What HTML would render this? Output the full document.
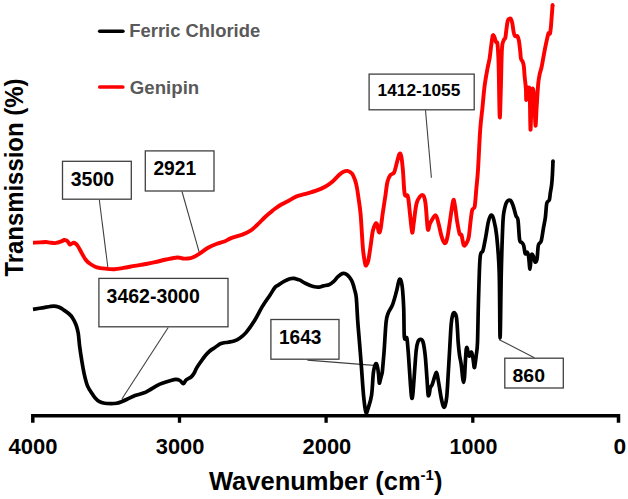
<!DOCTYPE html>
<html><head><meta charset="utf-8"><style>
html,body{margin:0;padding:0;background:#fff;}
body{width:628px;height:499px;overflow:hidden;}
svg{display:block;font-family:"Liberation Sans", sans-serif;font-weight:bold;}
</style></head><body>
<svg width="628" height="499" viewBox="0 0 628 499">
<line x1="99.3" y1="199.7" x2="107.8" y2="267" stroke="#404040" stroke-width="1.1"/>
<line x1="182" y1="191.5" x2="199.6" y2="253.7" stroke="#404040" stroke-width="1.1"/>
<line x1="168.2" y1="327.5" x2="121.9" y2="399" stroke="#404040" stroke-width="1.1"/>
<line x1="307.4" y1="360.1" x2="373.9" y2="365.4" stroke="#404040" stroke-width="1.1"/>
<line x1="499.3" y1="339.7" x2="534.4" y2="357.7" stroke="#404040" stroke-width="1.1"/>
<line x1="425.5" y1="110.3" x2="431.4" y2="177.8" stroke="#404040" stroke-width="1.1"/>
<path d="M33.0,242.7 C34.17,242.65 37.83,242.52 40.0,242.4 C42.17,242.28 44.33,241.97 46.0,242.0 C47.67,242.03 48.50,242.42 50.0,242.6 C51.50,242.78 53.67,243.12 55.0,243.1 C56.33,243.08 56.93,242.78 58.0,242.5 C59.07,242.22 60.37,241.82 61.4,241.4 C62.43,240.98 63.35,240.13 64.2,240.0 C65.05,239.87 65.85,240.27 66.5,240.6 C67.15,240.93 67.55,241.35 68.1,242.0 C68.65,242.65 69.23,244.20 69.8,244.5 C70.37,244.80 70.83,244.10 71.5,243.8 C72.17,243.50 73.13,242.75 73.8,242.7 C74.47,242.65 74.83,242.95 75.5,243.5 C76.17,244.05 77.02,244.88 77.8,246.0 C78.58,247.12 79.30,248.58 80.2,250.2 C81.10,251.82 82.23,254.05 83.2,255.7 C84.17,257.35 84.80,258.72 86.0,260.1 C87.20,261.48 88.62,262.80 90.4,264.0 C92.18,265.20 93.98,266.50 96.7,267.3 C99.42,268.10 103.73,268.48 106.7,268.8 C109.67,269.12 111.72,269.35 114.5,269.2 C117.28,269.05 120.05,268.45 123.4,267.9 C126.75,267.35 130.88,266.55 134.6,265.9 C138.32,265.25 142.30,264.62 145.7,264.0 C149.10,263.38 151.60,262.95 155.0,262.2 C158.40,261.45 162.38,260.28 166.1,259.5 C169.82,258.72 174.32,257.65 177.3,257.5 C180.28,257.35 181.77,258.50 184.0,258.6 C186.23,258.70 188.82,258.50 190.7,258.1 C192.58,257.70 193.82,256.95 195.3,256.2 C196.78,255.45 197.40,255.05 199.6,253.6 C201.80,252.15 205.53,249.17 208.5,247.5 C211.47,245.83 214.65,244.65 217.4,243.6 C220.15,242.55 222.72,242.12 225.0,241.2 C227.28,240.28 228.22,239.20 231.1,238.1 C233.98,237.00 239.13,235.80 242.3,234.6 C245.47,233.40 247.68,232.45 250.1,230.9 C252.52,229.35 254.38,227.53 256.8,225.3 C259.22,223.07 262.18,219.77 264.6,217.5 C267.02,215.23 269.63,213.12 271.3,211.7 C272.97,210.28 272.93,210.20 274.6,209.0 C276.27,207.80 278.73,206.00 281.3,204.5 C283.87,203.00 287.53,201.32 290.0,200.0 C292.47,198.68 293.22,197.70 296.1,196.6 C298.98,195.50 303.95,194.38 307.3,193.4 C310.65,192.42 313.23,191.80 316.2,190.7 C319.17,189.60 322.32,188.38 325.1,186.8 C327.88,185.22 330.48,183.25 332.9,181.2 C335.32,179.15 337.83,176.07 339.6,174.5 C341.37,172.93 342.20,172.40 343.5,171.8 C344.80,171.20 346.00,170.63 347.4,170.9 C348.80,171.17 350.63,171.88 351.9,173.4 C353.17,174.92 354.18,177.73 355.0,180.0 C355.82,182.27 356.22,184.00 356.8,187.0 C357.38,190.00 357.85,193.32 358.5,198.0 C359.15,202.68 359.97,206.75 360.7,215.1 C361.43,223.45 362.17,240.03 362.9,248.1 C363.63,256.17 364.50,260.68 365.1,263.5 C365.70,266.32 365.95,265.58 366.5,265.0 C367.05,264.42 367.72,263.17 368.4,260.0 C369.08,256.83 369.87,250.83 370.6,246.0 C371.33,241.17 371.97,234.73 372.8,231.0 C373.63,227.27 374.87,224.63 375.6,223.6 C376.33,222.57 376.65,223.37 377.2,224.8 C377.75,226.23 378.35,231.43 378.9,232.2 C379.45,232.97 379.87,232.52 380.5,229.4 C381.13,226.28 381.87,219.23 382.7,213.5 C383.53,207.77 384.72,200.25 385.5,195.0 C386.28,189.75 386.60,185.30 387.4,182.0 C388.20,178.70 389.18,176.78 390.3,175.2 C391.42,173.62 393.07,174.35 394.1,172.5 C395.13,170.65 395.62,167.18 396.5,164.1 C397.38,161.02 398.58,155.22 399.4,154.0 C400.22,152.78 400.80,153.92 401.4,156.8 C402.00,159.68 402.45,165.08 403.0,171.3 C403.55,177.52 403.88,189.90 404.7,194.1 C405.52,198.30 406.97,192.68 407.9,196.5 C408.83,200.32 409.58,210.98 410.3,217.0 C411.02,223.02 411.60,231.80 412.2,232.6 C412.80,233.40 413.13,226.80 413.9,221.8 C414.67,216.80 415.40,207.08 416.8,202.6 C418.20,198.12 420.87,194.90 422.3,194.9 C423.73,194.90 424.48,196.92 425.4,202.6 C426.32,208.28 427.00,225.60 427.8,229.0 C428.60,232.40 428.92,225.32 430.2,223.0 C431.48,220.68 434.13,215.10 435.5,215.1 C436.87,215.10 437.40,219.48 438.4,223.0 C439.40,226.52 440.47,232.82 441.5,236.2 C442.53,239.58 443.58,243.30 444.6,243.3 C445.62,243.30 446.22,243.08 447.6,236.2 C448.98,229.32 451.70,207.20 452.9,202.0 C454.10,196.80 454.08,201.70 454.8,205.0 C455.52,208.30 456.40,217.00 457.2,221.8 C458.00,226.60 458.88,231.60 459.6,233.8 C460.32,236.00 460.80,233.08 461.5,235.0 C462.20,236.92 462.97,243.97 463.8,245.3 C464.63,246.63 465.68,244.33 466.5,243.0 C467.32,241.67 468.03,240.80 468.7,237.3 C469.37,233.80 469.92,226.55 470.5,222.0 C471.08,217.45 471.50,212.58 472.2,210.0 C472.90,207.42 474.02,209.97 474.7,206.5 C475.38,203.03 475.75,195.28 476.3,189.2 C476.85,183.12 477.35,179.88 478.0,170.0 C478.65,160.12 479.47,140.22 480.2,129.9 C480.93,119.58 481.67,115.40 482.4,108.1 C483.13,100.80 483.75,92.70 484.6,86.1 C485.45,79.50 486.67,73.10 487.5,68.5 C488.33,63.90 489.00,62.18 489.6,58.5 C490.20,54.82 490.58,50.17 491.1,46.4 C491.62,42.63 492.18,37.55 492.7,35.9 C493.22,34.25 493.65,35.48 494.2,36.5 C494.75,37.52 495.45,40.72 496.0,42.0 C496.55,43.28 497.07,40.53 497.5,44.2 C497.93,47.87 498.23,51.88 498.6,64.0 C498.97,76.12 499.33,112.48 499.7,116.9 C500.07,121.32 500.43,101.65 500.8,90.5 C501.17,79.35 501.45,58.30 501.9,50.0 C502.35,41.70 502.93,42.72 503.5,40.7 C504.07,38.68 504.83,39.65 505.3,37.9 C505.77,36.15 505.90,33.02 506.3,30.2 C506.70,27.38 507.23,22.88 507.7,21.0 C508.17,19.12 508.57,19.25 509.1,18.9 C509.63,18.55 510.37,18.20 510.9,18.9 C511.43,19.60 511.83,20.87 512.3,23.1 C512.77,25.33 513.23,30.12 513.7,32.3 C514.17,34.48 514.47,35.55 515.1,36.2 C515.73,36.85 516.87,35.45 517.5,36.2 C518.13,36.95 518.43,38.08 518.9,40.7 C519.37,43.32 519.95,48.87 520.3,51.9 C520.65,54.93 520.60,57.27 521.0,58.9 C521.40,60.53 522.23,60.53 522.7,61.7 C523.17,62.87 523.48,63.52 523.8,65.9 C524.12,68.28 524.25,72.18 524.6,76.0 C524.95,79.82 525.63,84.80 525.9,88.8 C526.17,92.80 526.02,100.00 526.2,100.0 C526.38,100.00 526.60,90.80 527.0,88.8 C527.40,86.80 528.15,87.47 528.6,88.0 C529.05,88.53 529.38,85.05 529.7,92.0 C530.02,98.95 530.20,128.37 530.5,129.7 C530.80,131.03 531.20,106.68 531.5,100.0 C531.80,93.32 531.98,91.20 532.3,89.6 C532.62,88.00 533.03,87.87 533.4,90.4 C533.77,92.93 534.15,98.92 534.5,104.8 C534.85,110.68 535.15,125.17 535.5,125.7 C535.85,126.23 536.15,114.95 536.6,108.0 C537.05,101.05 537.67,89.73 538.2,84.0 C538.73,78.27 539.27,76.27 539.8,73.6 C540.33,70.93 540.85,70.45 541.4,68.0 C541.95,65.55 542.47,62.28 543.1,58.9 C543.73,55.52 544.50,51.20 545.2,47.7 C545.90,44.20 546.73,40.35 547.3,37.9 C547.87,35.45 548.17,33.70 548.6,33.0 C549.03,32.30 549.53,34.53 549.9,33.7 C550.27,32.87 550.52,30.58 550.8,28.0 C551.08,25.42 551.30,22.05 551.6,18.2 C551.90,14.35 552.43,7.12 552.6,4.9" fill="none" stroke="#ff0000" stroke-width="3.9" stroke-linejoin="round" stroke-linecap="butt"/>
<path d="M33.0,309.3 C34.58,309.05 39.07,308.33 42.5,307.8 C45.93,307.27 50.82,306.18 53.6,306.1 C56.38,306.02 57.52,306.65 59.2,307.3 C60.88,307.95 62.03,308.88 63.7,310.0 C65.37,311.12 67.72,312.68 69.2,314.0 C70.68,315.32 71.48,316.15 72.6,317.9 C73.72,319.65 74.97,321.98 75.9,324.5 C76.83,327.02 77.58,329.42 78.2,333.0 C78.82,336.58 78.97,341.17 79.6,346.0 C80.23,350.83 81.20,357.20 82.0,362.0 C82.80,366.80 83.47,370.78 84.4,374.8 C85.33,378.82 86.27,382.88 87.6,386.1 C88.93,389.32 91.17,392.17 92.4,394.1 C93.63,396.03 93.90,396.50 95.0,397.7 C96.10,398.90 97.40,400.37 99.0,401.3 C100.60,402.23 102.60,402.90 104.6,403.3 C106.60,403.70 109.00,403.70 111.0,403.7 C113.00,403.70 114.85,403.63 116.6,403.3 C118.35,402.97 119.75,402.37 121.5,401.7 C123.25,401.03 124.85,400.33 127.1,399.3 C129.35,398.27 132.28,396.53 135.0,395.5 C137.72,394.47 141.07,393.97 143.4,393.1 C145.73,392.23 146.67,391.58 149.0,390.3 C151.33,389.02 155.07,386.62 157.4,385.4 C159.73,384.18 160.88,383.77 163.0,383.0 C165.12,382.23 167.98,381.40 170.1,380.8 C172.22,380.20 174.07,379.45 175.7,379.4 C177.33,379.35 178.62,379.80 179.9,380.5 C181.18,381.20 182.35,383.72 183.4,383.6 C184.45,383.48 184.92,380.90 186.2,379.8 C187.48,378.70 189.82,378.05 191.1,377.0 C192.38,375.95 192.97,375.02 193.9,373.5 C194.83,371.98 195.53,369.88 196.7,367.9 C197.87,365.92 199.52,363.58 200.9,361.6 C202.28,359.62 203.52,357.77 205.0,356.0 C206.48,354.23 208.13,352.42 209.8,351.0 C211.47,349.58 213.13,348.75 215.0,347.5 C216.87,346.25 218.83,344.38 221.0,343.5 C223.17,342.62 225.83,342.62 228.0,342.2 C230.17,341.78 232.07,341.67 234.0,341.0 C235.93,340.33 237.60,339.60 239.6,338.2 C241.60,336.80 243.58,335.42 246.0,332.6 C248.42,329.78 251.42,325.58 254.1,321.3 C256.78,317.02 259.43,311.30 262.1,306.9 C264.77,302.50 267.97,298.13 270.1,294.9 C272.23,291.67 273.57,289.12 274.9,287.5 C276.23,285.88 276.50,286.25 278.1,285.2 C279.70,284.15 282.52,282.27 284.5,281.2 C286.48,280.13 288.43,279.27 290.0,278.8 C291.57,278.33 292.53,278.27 293.9,278.4 C295.27,278.53 297.18,279.32 298.2,279.6 C299.22,279.88 298.95,279.55 300.0,280.1 C301.05,280.65 302.90,282.05 304.5,282.9 C306.10,283.75 307.93,284.55 309.6,285.2 C311.27,285.85 312.93,286.48 314.5,286.8 C316.07,287.12 317.52,287.25 319.0,287.1 C320.48,286.95 321.73,286.30 323.4,285.9 C325.07,285.50 327.32,285.40 329.0,284.7 C330.68,284.00 332.00,283.03 333.5,281.7 C335.00,280.37 336.52,278.05 338.0,276.7 C339.48,275.35 341.12,274.07 342.4,273.6 C343.68,273.13 344.50,273.28 345.7,273.9 C346.90,274.52 348.48,275.90 349.6,277.3 C350.72,278.70 351.55,280.17 352.4,282.3 C353.25,284.43 354.05,287.50 354.7,290.1 C355.35,292.70 355.78,292.58 356.3,297.9 C356.82,303.22 357.23,314.15 357.8,322.0 C358.37,329.85 359.08,337.33 359.7,345.0 C360.32,352.67 360.85,359.50 361.5,368.0 C362.15,376.50 362.87,388.62 363.6,396.0 C364.33,403.38 365.15,410.22 365.9,412.3 C366.65,414.38 367.15,411.38 368.1,408.5 C369.05,405.62 370.72,400.98 371.6,395.0 C372.48,389.02 372.72,377.80 373.4,372.6 C374.08,367.40 375.02,364.73 375.7,363.8 C376.38,362.87 377.02,365.13 377.5,367.0 C377.98,368.87 378.30,372.33 378.6,375.0 C378.90,377.67 379.02,382.17 379.3,383.0 C379.58,383.83 379.93,381.28 380.3,380.0 C380.67,378.72 381.17,376.63 381.5,375.3 C381.83,373.97 382.02,374.22 382.3,372.0 C382.58,369.78 382.88,365.67 383.2,362.0 C383.52,358.33 383.72,356.67 384.2,350.0 C384.68,343.33 385.42,328.18 386.1,322.0 C386.78,315.82 387.23,315.75 388.3,312.9 C389.37,310.05 391.17,308.37 392.5,304.9 C393.83,301.43 395.13,296.37 396.3,292.1 C397.47,287.83 398.53,280.37 399.5,279.3 C400.47,278.23 401.40,280.90 402.1,285.7 C402.80,290.50 403.33,299.58 403.7,308.1 C404.07,316.62 403.92,331.87 404.3,336.8 C404.68,341.73 405.53,337.27 406.0,337.7 C406.47,338.13 406.68,336.43 407.1,339.4 C407.52,342.37 407.98,348.57 408.5,355.5 C409.02,362.43 409.68,374.05 410.2,381.0 C410.72,387.95 411.17,394.93 411.6,397.2 C412.03,399.47 412.32,398.72 412.8,394.6 C413.28,390.48 413.93,379.87 414.5,372.5 C415.07,365.13 415.63,355.50 416.2,350.4 C416.77,345.30 417.20,343.73 417.9,341.9 C418.60,340.07 419.55,339.40 420.4,339.4 C421.25,339.40 422.20,339.22 423.0,341.9 C423.80,344.58 424.55,349.55 425.2,355.5 C425.85,361.45 426.42,371.08 426.9,377.6 C427.38,384.12 427.70,391.90 428.1,394.6 C428.50,397.30 428.93,394.93 429.3,393.8 C429.67,392.67 429.80,389.37 430.3,387.8 C430.80,386.23 431.53,386.38 432.3,384.4 C433.07,382.42 434.18,377.88 434.9,375.9 C435.62,373.92 436.12,372.22 436.6,372.5 C437.08,372.78 437.32,375.05 437.8,377.6 C438.28,380.15 438.93,384.40 439.5,387.8 C440.07,391.20 440.55,394.88 441.2,398.0 C441.85,401.12 442.75,405.22 443.4,406.5 C444.05,407.78 444.53,407.40 445.1,405.7 C445.67,404.00 446.27,401.83 446.8,396.3 C447.33,390.77 447.80,380.72 448.3,372.5 C448.80,364.28 449.32,355.08 449.8,347.0 C450.28,338.92 450.70,329.43 451.2,324.0 C451.70,318.57 452.22,316.27 452.8,314.4 C453.38,312.53 454.08,312.27 454.7,312.8 C455.32,313.33 456.02,314.40 456.5,317.6 C456.98,320.80 457.32,327.85 457.6,332.0 C457.88,336.15 457.88,338.68 458.2,342.5 C458.52,346.32 458.98,351.17 459.5,354.9 C460.02,358.63 460.78,361.17 461.3,364.9 C461.82,368.63 462.23,374.40 462.6,377.3 C462.97,380.20 463.18,382.30 463.5,382.3 C463.82,382.30 464.18,380.83 464.5,377.3 C464.82,373.77 465.10,365.87 465.4,361.1 C465.70,356.33 466.00,350.87 466.3,348.7 C466.60,346.53 466.88,347.27 467.2,348.1 C467.52,348.93 467.83,352.37 468.2,353.7 C468.57,355.03 468.98,356.32 469.4,356.1 C469.82,355.88 470.28,352.92 470.7,352.4 C471.12,351.88 471.48,351.75 471.9,353.0 C472.32,354.25 472.82,357.50 473.2,359.9 C473.58,362.30 473.90,366.57 474.2,367.4 C474.50,368.23 474.65,366.98 475.0,364.9 C475.35,362.82 475.88,358.63 476.3,354.9 C476.72,351.17 477.13,351.65 477.5,342.5 C477.87,333.35 478.07,314.15 478.5,300.0 C478.93,285.85 479.35,265.87 480.1,257.6 C480.85,249.33 482.03,254.00 483.0,250.4 C483.97,246.80 485.00,240.80 485.9,236.0 C486.80,231.20 487.50,225.08 488.4,221.6 C489.30,218.12 490.40,215.40 491.3,215.1 C492.20,214.80 492.90,216.32 493.8,219.8 C494.70,223.28 495.80,227.32 496.7,236.0 C497.60,244.68 498.63,254.90 499.2,271.9 C499.77,288.90 499.75,338.00 500.1,338.0 C500.45,338.00 500.85,290.73 501.3,271.9 C501.75,253.07 502.35,235.05 502.8,225.0 C503.25,214.95 503.33,215.47 504.0,211.6 C504.67,207.73 505.73,203.67 506.8,201.8 C507.87,199.93 509.33,199.70 510.4,200.4 C511.47,201.10 512.27,203.43 513.2,206.0 C514.13,208.57 515.20,213.47 516.0,215.8 C516.80,218.13 517.40,216.03 518.0,220.0 C518.60,223.97 519.00,235.87 519.6,239.6 C520.20,243.33 520.93,241.47 521.6,242.4 C522.27,243.33 523.00,243.33 523.6,245.2 C524.20,247.07 524.60,252.43 525.2,253.6 C525.80,254.77 526.63,251.73 527.2,252.2 C527.77,252.67 528.13,253.60 528.6,256.4 C529.07,259.20 529.53,269.23 530.0,269.0 C530.47,268.77 530.83,257.10 531.4,255.0 C531.97,252.90 532.80,255.23 533.4,256.4 C534.00,257.57 534.40,261.53 535.0,262.0 C535.60,262.47 536.43,262.00 537.0,259.2 C537.57,256.40 537.70,248.23 538.4,245.2 C539.10,242.17 540.37,243.80 541.2,241.0 C542.03,238.20 542.70,232.37 543.4,228.4 C544.10,224.43 544.83,221.40 545.4,217.2 C545.97,213.00 546.15,206.07 546.8,203.2 C547.45,200.33 548.72,201.70 549.3,200.0 C549.88,198.30 549.92,195.50 550.3,193.0 C550.68,190.50 551.25,188.00 551.6,185.0 C551.95,182.00 552.17,179.00 552.4,175.0 C552.63,171.00 552.90,163.33 553.0,161.0" fill="none" stroke="#000" stroke-width="3.7" stroke-linejoin="round" stroke-linecap="butt"/>
<circle cx="552.6" cy="4.9" r="1.9" fill="#ff0000"/><circle cx="553" cy="161" r="1.85" fill="#000"/>
<rect x="62.5" y="161.3" width="68.8" height="37.9" fill="#fff" stroke="#404040" stroke-width="1.3"/>
<text x="70.7" y="186.0" font-size="19.3" textLength="43.4" lengthAdjust="spacingAndGlyphs" fill="#000" >3500</text>
<rect x="145.3" y="150.9" width="68.7" height="40.1" fill="#fff" stroke="#404040" stroke-width="1.3"/>
<text x="153.4" y="175.0" font-size="19.3" textLength="42.8" lengthAdjust="spacingAndGlyphs" fill="#000" >2921</text>
<rect x="98.9" y="278.4" width="129.1" height="48.4" fill="#fff" stroke="#404040" stroke-width="1.3"/>
<text x="106.6" y="303.0" font-size="19.3" textLength="93.2" lengthAdjust="spacingAndGlyphs" fill="#000" >3462-3000</text>
<rect x="270.9" y="319.5" width="68.1" height="39.7" fill="#fff" stroke="#404040" stroke-width="1.3"/>
<text x="278.9" y="344.1" font-size="19.3" textLength="42.5" lengthAdjust="spacingAndGlyphs" fill="#000" >1643</text>
<rect x="504.8" y="358.2" width="58.5" height="29.8" fill="#fff" stroke="#404040" stroke-width="1.3"/>
<text x="512.5" y="382.4" font-size="19.1" textLength="32.5" lengthAdjust="spacingAndGlyphs" fill="#000" >860</text>
<rect x="369.1" y="74.1" width="105.1" height="35.7" fill="#fff" stroke="#404040" stroke-width="1.3"/>
<text x="377.6" y="96.0" font-size="17" textLength="82.7" lengthAdjust="spacingAndGlyphs" fill="#000" >1412-1055</text>
<path d="M32.8 422.8 V415.75 H618.5 V422.8" fill="none" stroke="#000" stroke-width="3.5"/>
<line x1="179.5" y1="415.75" x2="179.5" y2="422.8" stroke="#000" stroke-width="3.3"/>
<line x1="326.1" y1="415.75" x2="326.1" y2="422.8" stroke="#000" stroke-width="3.3"/>
<line x1="472.8" y1="415.75" x2="472.8" y2="422.8" stroke="#000" stroke-width="3.3"/>
<text x="8.6" y="453.8" font-size="21.4" textLength="49.0" lengthAdjust="spacingAndGlyphs" fill="#000" >4000</text>
<text x="155.8" y="453.8" font-size="21.4" textLength="48.6" lengthAdjust="spacingAndGlyphs" fill="#000" >3000</text>
<text x="302.6" y="453.8" font-size="21.4" textLength="48.7" lengthAdjust="spacingAndGlyphs" fill="#000" >2000</text>
<text x="449.6" y="453.8" font-size="21.4" textLength="47.8" lengthAdjust="spacingAndGlyphs" fill="#000" >1000</text>
<text x="613.5" y="453.8" font-size="21.4" textLength="12.7" lengthAdjust="spacingAndGlyphs" fill="#000" >0</text>
<text x="209" y="490.4" font-size="25.5" fill="#000" textLength="233.4" lengthAdjust="spacingAndGlyphs">Wavenumber (cm<tspan font-size="15" dy="-10">-1</tspan><tspan dy="10">)</tspan></text>
<text transform="translate(23,276.6) rotate(-90)" x="0" y="0" font-size="25.5" fill="#000" textLength="198" lengthAdjust="spacingAndGlyphs">Transmission (%)</text>
<line x1="99.7" y1="31.3" x2="122.9" y2="31.3" stroke="#000" stroke-width="3.6" stroke-linecap="round"/>
<line x1="99.8" y1="87" x2="122.8" y2="87" stroke="#ff0000" stroke-width="3.7" stroke-linecap="round"/>
<text x="129.3" y="37.4" font-size="19.2" textLength="130.9" lengthAdjust="spacingAndGlyphs" fill="#595959" >Ferric Chloride</text>
<text x="129.8" y="93.7" font-size="19.2" textLength="69.4" lengthAdjust="spacingAndGlyphs" fill="#595959" >Genipin</text>
</svg>
</body></html>
